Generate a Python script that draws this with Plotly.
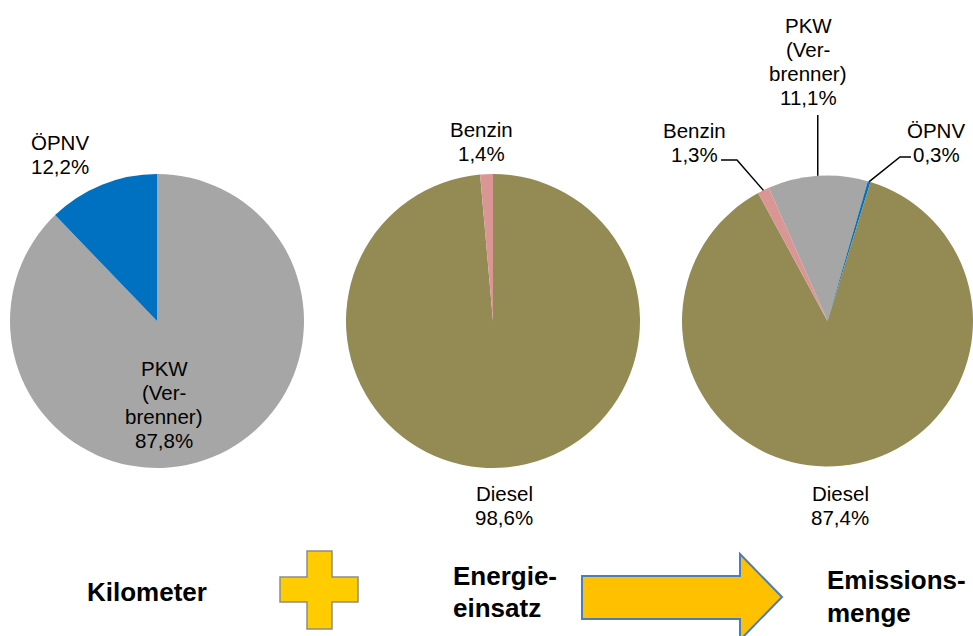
import math
import plotly.graph_objects as go

W, H = 973, 636

# ---- data ----
km_labels = ["PKW (Verbrenner)", "ÖPNV"]
km_values = [87.8, 12.2]
km_colors = ["#A6A6A6", "#0070C0"]

en_labels = ["Diesel", "Benzin"]
en_values = [98.6, 1.4]
en_colors = ["#948A54", "#D99694"]

em_labels = ["PKW (Verbrenner)", "ÖPNV", "Diesel", "Benzin"]
em_values = [11.1, 0.3, 87.4, 1.3]
em_colors = ["#A6A6A6", "#0070C0", "#948A54", "#D99694"]
em_rotation = -23.8

bottom_words = ["Kilometer", "Energie-<br>einsatz", "Emissions-<br>menge"]


def pct(v):
    return f"{v:.1f}".replace(".", ",") + "%"


# ---- layout geometry (pixels) ----
R = 147
CY = 321
centers_x = [157, 493, 829]


def domain(cx):
    x0 = (cx - R) / W
    x1 = min(1.0, (cx + R) / W)
    y0 = 1 - (CY + R) / H
    y1 = 1 - (CY - R) / H
    return dict(x=[x0, x1], y=[y0, y1])


def eff_geom(cx):
    x0 = cx - R
    x1 = min(W, cx + R)
    r = min(x1 - x0, 2 * R) / 2
    return (x0 + x1) / 2, CY, r


fig = go.Figure()
pies = [
    (km_labels, km_values, km_colors, 0),
    (en_labels, en_values, en_colors, 0),
    (em_labels, em_values, em_colors, em_rotation),
]
for i, (lab, val, col, rot) in enumerate(pies):
    fig.add_trace(go.Pie(
        labels=lab, values=val, sort=False, direction="clockwise",
        rotation=rot, marker=dict(colors=col, line=dict(width=0)),
        textinfo="none", hoverinfo="label+percent", showlegend=False,
        domain=domain(centers_x[i]),
    ))


def mid_edge_point(values, idx, rotation, cx, cy, r):
    total = sum(values)
    start = rotation + 360 * sum(values[:idx]) / total
    mid = start + 180 * values[idx] / total
    a = math.radians(mid)
    return cx + r * math.sin(a), cy - r * math.cos(a)


FONT = "Liberation Sans, Arial, sans-serif"


def px2paper(x, y):
    return x / W, 1 - y / H


def add_lines(lines, x, y, size=20.5, spacing=24, bold=False, anchor="center"):
    for k, t in enumerate(lines):
        px, py = px2paper(x, y + k * spacing)
        fig.add_annotation(
            x=px, y=py, xref="paper", yref="paper",
            text=f"<b>{t}</b>" if bold else t, showarrow=False,
            xanchor=anchor, yanchor="middle",
            font=dict(family=FONT, size=size, color="#000000"),
        )


def add_path(points, color="#000000", width=1.5):
    path = "M " + " L ".join(f"{px2paper(x, y)[0]:.5f},{px2paper(x, y)[1]:.5f}" for x, y in points)
    fig.add_shape(type="path", path=path, xref="paper", yref="paper",
                  line=dict(color=color, width=width))


# ---- pie 1 labels ----
add_lines(["ÖPNV", pct(km_values[1])], 60, 142)
add_lines(["PKW", "(Ver-", "brenner)", pct(km_values[0])], 164, 368)

# ---- pie 2 labels ----
add_lines(["Benzin", pct(en_values[1])], 481, 129)
add_lines(["Diesel", pct(en_values[0])], 504, 493)

# ---- pie 3 labels + leader lines ----
cx3, cy3, r3 = eff_geom(centers_x[2])
add_lines(["PKW", "(Ver-", "brenner)", pct(em_values[0])], 808, 25)
add_lines(["Benzin", pct(em_values[3])], 694, 130)
add_lines(["ÖPNV", pct(em_values[1])], 936, 130)
add_lines(["Diesel", pct(em_values[2])], 840, 493)

ex, ey = mid_edge_point(em_values, 0, em_rotation, cx3, cy3, r3)
add_path([(ex, 115), (ex, ey)])
ex, ey = mid_edge_point(em_values, 3, em_rotation, cx3, cy3, r3)
add_path([(721, 160), (737, 160), (ex, ey)])
ex, ey = mid_edge_point(em_values, 1, em_rotation, cx3, cy3, r3)
add_path([(911, 157), (900, 157), (ex, ey)])

# ---- bottom row ----
add_lines([bottom_words[0]], 147, 592, size=26, bold=True)
add_lines(bottom_words[1].split("<br>"), 451, 576, size=26, spacing=32, bold=True, anchor="left")
add_lines(bottom_words[2].split("<br>"), 825, 580, size=26, spacing=33, bold=True, anchor="left")

plus = [(307, 551), (332, 551), (332, 577), (358, 577), (358, 602), (332, 602),
        (332, 629), (307, 629), (307, 602), (280, 602), (280, 577), (307, 577)]
path = "M " + " L ".join(f"{px2paper(x, y)[0]:.5f},{px2paper(x, y)[1]:.5f}" for x, y in plus) + " Z"
fig.add_shape(type="path", path=path, xref="paper", yref="paper",
              fillcolor="#FFCC00", line=dict(color="#8C8C8C", width=1.5))

arrow = [(582, 576), (740, 576), (740, 554), (782, 597), (740, 640),
         (740, 619), (582, 619)]
path = "M " + " L ".join(f"{px2paper(x, y)[0]:.5f},{px2paper(x, y)[1]:.5f}" for x, y in arrow) + " Z"
fig.add_shape(type="path", path=path, xref="paper", yref="paper",
              fillcolor="#FFC000", line=dict(color="#4A7EBB", width=2))

fig.update_layout(
    width=W, height=H, margin=dict(l=0, r=0, t=0, b=0),
    paper_bgcolor="white", plot_bgcolor="white",
    font=dict(family=FONT),
)

fig.write_html("out.html")
